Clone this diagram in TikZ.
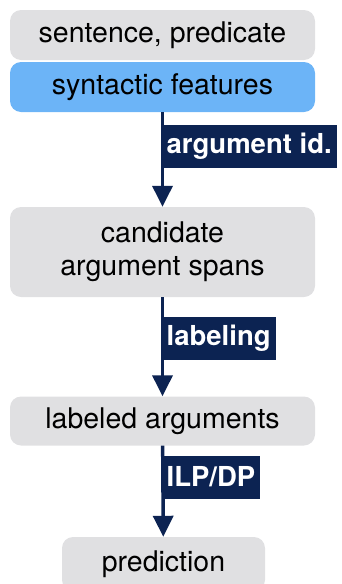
\documentclass[tikz,border=0pt]{standalone}
\usepackage{fontspec}
\setmainfont{TeX Gyre Heros}
\usetikzlibrary{arrows.meta}
\definecolor{boxgray}{HTML}{E0E0E2}
\definecolor{featblue}{HTML}{6CB4F7}
\definecolor{navy}{HTML}{0C2352}
\begin{document}
\begin{tikzpicture}[x=1pt,y=-1pt]
    \tikzstyle{box}=[fill=boxgray,rounded corners=11pt,minimum width=305pt,align=center,inner sep=0pt,font=\fontsize{28.5}{33}\selectfont]
    \tikzstyle{flag}=[fill=navy,text=white,anchor=west,inner xsep=5pt,inner ysep=0pt,minimum height=43pt,font=\bfseries\fontsize{27.5}{30}\selectfont]
    \tikzstyle{flow}=[draw=navy,line width=3.5pt,-{Triangle[width=20pt,length=21pt]}]
    \useasboundingbox (0,0) rectangle (341,584);
    \clip (0,0) rectangle (341,584);
    \draw node[box,minimum height=50pt](input)at(162.5,35){sentence, predicate}
          node[box,fill=featblue,minimum height=50pt](feat)at(162.5,87){syntactic features}
          node[box,minimum height=90pt](cand)at(162.5,252){candidate\\argument spans}
          node[box,minimum height=49pt](lab)at(162.5,421){labeled arguments}
          node[box,minimum width=203pt,minimum height=54pt](pred)at(163.5,564){prediction};
    \draw[flow](feat)--(cand);
    \draw[flow](cand)--(lab);
    \draw[flow](lab)--(pred);
    \draw node[flag](aid)at(161.5,146){argument id.}
          node[flag](labeling)at(161.5,338.5){labeling}
          node[flag](ilp)at(161.5,477){ILP/DP};
\end{tikzpicture}
\end{document}
